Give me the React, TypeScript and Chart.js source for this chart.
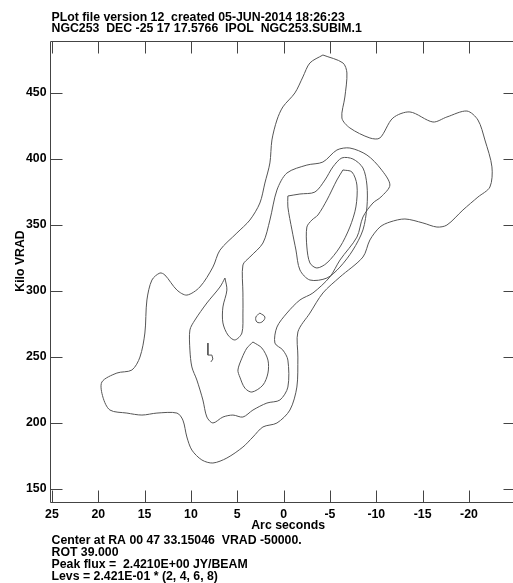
import React, { useEffect, useRef } from 'react';
import { Chart, registerables } from 'chart.js';

Chart.register(...registerables);

// ---------- text ----------
const titleLines = [
  'PLot file version 12  created 05-JUN-2014 18:26:23',
  'NGC253  DEC -25 17 17.5766  IPOL  NGC253.SUBIM.1',
];
const footerLines = [
  'Center at RA 00 47 33.15046  VRAD -50000.',
  'ROT 39.000',
  'Peak flux =  2.4210E+00 JY/BEAM',
  'Levs = 2.421E-01 * (2, 4, 6, 8)',
];
const xAxisTitle = 'Arc seconds';
const yAxisTitle = 'Kilo VRAD';

// ---------- ticks ----------
const xTicks = [25, 20, 15, 10, 5, 0, -5, -10, -15, -20];
const yTicks = [150, 200, 250, 300, 350, 400, 450];

// ---------- contours: [arcsec, kilo VRAD] ----------
const contourLev2: number[][] = [
  [-4.24, 478.5], [-6.4, 472.5], [-6.83, 464.9], [-6.61, 446.7], [-6.29, 430.8],
  [-7.15, 423.3], [-9.31, 415.7], [-10.39, 415.7], [-11.79, 430.8], [-13.63, 435.4],
  [-16.11, 427.8], [-17.62, 431.6], [-19.78, 436.1], [-20.97, 429.3], [-21.72, 414.2],
  [-22.48, 393.8], [-22.26, 378.6], [-20.97, 371.0], [-19.35, 361.2], [-17.62, 349.8],
  [-16.54, 348.3], [-15.03, 351.4], [-13.09, 354.4], [-11.47, 352.1], [-10.39, 348.3],
  [-9.31, 338.5], [-8.56, 325.6], [-6.08, 310.5], [-4.24, 298.4], [-2.84, 283.2],
  [-1.54, 268.9], [-1.54, 249.9], [-1.43, 227.2], [-0.68, 209.8], [0.72, 200.0],
  [2.23, 197.0], [3.31, 189.4], [4.39, 181.8], [6.12, 173.5], [7.63, 169.7],
  [8.82, 172.0], [9.9, 179.5], [10.44, 189.4], [10.87, 202.2], [11.51, 207.5],
  [13.67, 207.5], [15.29, 206.0], [16.91, 207.5], [18.74, 209.8], [19.5, 219.6],
  [19.61, 231.0], [17.99, 237.8], [16.37, 240.1], [15.5, 249.9], [14.97, 268.1],
  [14.75, 293.1], [14.21, 308.2], [13.35, 313.5], [12.81, 312.0], [11.51, 300.6],
  [10.44, 296.8], [9.04, 302.9], [7.63, 318.0], [6.87, 330.8], [5.04, 343.8],
  [3.64, 353.6], [2.56, 366.5], [2.02, 381.6], [1.48, 396.8], [1.26, 414.2],
  [0.72, 429.3], [0.08, 439.2], [-1.22, 449.8], [-2.08, 461.9], [-2.84, 472.5],
  [-4.24, 478.5],
];

const contourLev4: number[][] = [
  [6.33, 309.7], [6.87, 302.9], [8.28, 290.8], [9.57, 277.9], [10.11, 270.4],
  [10.11, 255.2], [9.9, 242.4], [9.36, 232.5], [8.71, 217.4], [8.28, 204.5],
  [7.63, 200.0], [6.55, 204.5], [5.47, 206.0], [4.39, 204.5], [3.31, 209.8],
  [1.8, 215.1], [0.4, 217.4], [-0.46, 227.2], [-0.46, 247.6], [0.08, 255.2],
  [0.94, 260.5], [0.72, 272.6], [-0.36, 283.2], [-1.76, 293.1], [-3.16, 298.4],
  [-4.99, 310.5], [-6.08, 323.3], [-7.91, 340.7], [-8.56, 355.9], [-9.64, 366.5],
  [-10.5, 371.0], [-11.47, 380.1], [-10.5, 392.2], [-8.99, 402.8], [-7.15, 408.1],
  [-5.75, 406.6], [-4.24, 397.5], [-2.51, 395.2], [-0.36, 389.2], [0.72, 376.3],
  [1.48, 353.6], [2.23, 336.2], [3.64, 325.6], [4.39, 319.6], [4.39, 298.4],
  [4.39, 283.2], [4.5, 268.1], [5.26, 262.8], [6.01, 266.6], [6.55, 275.7],
  [6.55, 287.8], [6.12, 300.6], [6.33, 309.7],
];

const contourLev6: number[][] = [
  [-0.46, 371.8], [-1.76, 373.3], [-3.38, 374.8], [-4.46, 383.9], [-5.32, 393.8],
  [-6.29, 400.6], [-7.48, 399.8], [-8.56, 393.0], [-8.99, 380.1], [-8.99, 363.5],
  [-8.56, 346.1], [-7.48, 330.9], [-6.08, 318.0], [-4.67, 309.7], [-2.84, 308.2],
  [-1.76, 315.8], [-1.33, 330.9], [-0.9, 346.1], [-0.46, 363.5], [-0.46, 371.8],
];

const contourLev8: number[][] = [
  [-6.4, 391.5], [-7.37, 390.0], [-7.91, 380.1], [-7.8, 363.5], [-7.15, 348.3],
  [-6.08, 333.2], [-4.67, 321.1], [-3.59, 317.3], [-2.84, 321.1], [-2.51, 333.2],
  [-2.51, 348.3], [-3.05, 353.6], [-3.7, 357.4], [-4.67, 368.7], [-5.75, 383.9],
  [-6.4, 391.5],
];

const contourSmall: number[][] = [
  [2.56, 283.2], [2.02, 280.2], [2.34, 276.4], [2.88, 276.4], [2.99, 280.2], [2.56, 283.2],
];

const contourOval: number[][] = [
  [3.31, 261.3], [2.34, 256.7], [1.69, 247.6], [1.69, 237.8], [2.23, 228.7],
  [3.42, 223.4], [4.18, 226.4], [4.72, 234.7], [4.93, 240.1], [4.5, 249.1],
  [3.96, 256.7], [3.31, 261.3],
];

const contourFragment: number[][] = [
  [8.17, 260.5], [8.17, 251.4], [7.74, 251.4], [7.63, 248.4], [7.85, 246.2],
];

const contours = [
  { pts: contourLev2, tension: 0.3 },
  { pts: contourLev4, tension: 0.3 },
  { pts: contourLev6, tension: 0.3 },
  { pts: contourLev8, tension: 0.3 },
  { pts: contourSmall, tension: 0.4 },
  { pts: contourOval, tension: 0.3 },
  { pts: contourFragment, tension: 0 },
];

const FONT = 'bold 12.3px "Liberation Sans", Arial, Helvetica, sans-serif';
const INK = '#000';
const LINE = '#444';

const decorPlugin = {
  id: 'aipsDecor',
  afterDraw(chart: any) {
    const { ctx, chartArea, scales } = chart;
    const xs = scales.x;
    const ys = scales.y;
    const L = Math.round(chartArea.left) - 0.5;
    const T = Math.round(chartArea.top) + 0.5;
    const B = Math.round(chartArea.bottom) + 0.5;
    const R = Math.round(chartArea.right) + 0.5;
    ctx.save();
    ctx.strokeStyle = LINE;
    ctx.lineWidth = 1;
    ctx.beginPath();
    ctx.rect(L, T, R - L, B - T);
    ctx.stroke();

    const tl = 12;
    ctx.beginPath();
    for (const v of xTicks) {
      const px = Math.round(xs.getPixelForValue(v)) + 0.5;
      ctx.moveTo(px, B);
      ctx.lineTo(px, B - tl);
      ctx.moveTo(px, T);
      ctx.lineTo(px, T + tl);
    }
    for (const v of yTicks) {
      const py = Math.round(ys.getPixelForValue(v)) + 0.5;
      ctx.moveTo(L, py);
      ctx.lineTo(L + tl, py);
      ctx.moveTo(R, py);
      ctx.lineTo(R - tl, py);
    }
    ctx.stroke();

    ctx.fillStyle = INK;
    ctx.font = FONT;
    ctx.textAlign = 'center';
    ctx.textBaseline = 'alphabetic';
    for (const v of xTicks) {
      ctx.fillText(String(v), xs.getPixelForValue(v), B + 15);
    }
    ctx.textAlign = 'right';
    ctx.textBaseline = 'middle';
    for (const v of yTicks) {
      ctx.fillText(String(v), L - 4, ys.getPixelForValue(v));
    }

    // axis titles
    ctx.textAlign = 'center';
    ctx.textBaseline = 'alphabetic';
    ctx.fillText(xAxisTitle, (chartArea.left + chartArea.right) / 2 + 5, B + 26);
    ctx.save();
    ctx.translate(24, 261);
    ctx.rotate(-Math.PI / 2);
    ctx.textBaseline = 'alphabetic';
    ctx.fillText(yAxisTitle, 0, 0);
    ctx.restore();

    // title lines
    ctx.textAlign = 'left';
    ctx.textBaseline = 'alphabetic';
    titleLines.forEach((t, i) => ctx.fillText(t, L + 1, 21 + i * 10.5));
    footerLines.forEach((t, i) => ctx.fillText(t, L + 1, B + 41 + i * 12.2));
    ctx.restore();
  },
};

export default function App() {
  const ref = useRef<HTMLCanvasElement | null>(null);
  useEffect(() => {
    if (!ref.current) return;
    const chart = new Chart(ref.current, {
      type: 'scatter',
      data: {
        datasets: contours.map((c) => ({
          data: c.pts.map(([x, y]) => ({ x, y })),
          showLine: true,
          borderColor: '#555',
          borderWidth: 1,
          pointRadius: 0,
          pointHoverRadius: 0,
          tension: c.tension,
          fill: false,
        })),
      },
      options: {
        animation: false,
        responsive: false,
        events: [],
        layout: { padding: { left: 51, top: 41, right: 14.7, bottom: 81 } },
        plugins: { legend: { display: false }, tooltip: { enabled: false } },
        scales: {
          x: { type: 'linear', display: false, reverse: true, min: -25, max: 25.1 },
          y: { type: 'linear', display: false, min: 140.2, max: 489.1 },
        },
      },
      plugins: [decorPlugin],
    });
    return () => chart.destroy();
  }, []);
  return (
    <div style={{ position: 'fixed', left: 0, top: 0, width: 513, height: 583, overflow: 'hidden', background: '#fff' }}>
      <canvas ref={ref} width={530} height={583} style={{ width: 530, height: 583, display: 'block' }} />
    </div>
  );
}
